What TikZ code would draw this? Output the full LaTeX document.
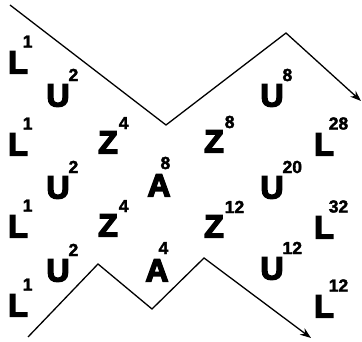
\documentclass[tikz,border=0pt]{standalone}
\usepackage{fontspec}
\setmainfont{Liberation Sans}
\newfontfamily\heavyfont{Liberation Sans Bold}[FakeBold=4.5]
\newfontfamily\supfont{Liberation Sans Bold}[FakeBold=2]
\usetikzlibrary{arrows.meta}
\tikzset{
  let/.style={inner sep=0pt, outer sep=0pt, font=\fontsize{32}{32}\heavyfont, text height=22.9pt, text depth=0pt},
  sup/.style={inner sep=0pt, outer sep=0pt, font=\fontsize{17.5}{17.5}\supfont, text height=12.5pt, text depth=0pt, anchor=south west},
  Lsup/.style={xshift=-5pt, yshift=3pt},
  Usup/.style={xshift=-1pt, yshift=2.5pt},
  Zsup/.style={xshift=1pt, yshift=1.5pt},
  Asup/.style={xshift=-10pt, yshift=4.5pt},
  zig/.style={line width=1.3pt, line join=miter},
  arr/.style={zig, -{Stealth[length=11pt,width=8pt]}}
}
\newcommand{\lt}[5]{\node[let] (#1) at (#2,#3) {#4}; \node[sup, #4sup] (#1s) at (#1.north east) {#5};}
\begin{document}
\begin{tikzpicture}[x=1pt,y=-1pt]
\useasboundingbox (0,0) rectangle (362,342);
\lt{a}{18}{62}{L}{1}
\lt{b}{58}{95}{U}{2}
\lt{c}{18}{144}{L}{1}
\lt{d}{108}{142}{Z}{4}
\lt{e}{159}{185}{A}{8}
\lt{f}{214}{141}{Z}{8}
\lt{g}{272}{95}{U}{8}
\lt{h}{324}{144}{L}{28}
\lt{i}{58}{187}{U}{2}
\lt{j}{272}{187}{U}{20}
\lt{k}{18}{226}{L}{1}
\lt{l}{108}{225}{Z}{4}
\lt{m}{214}{226}{Z}{12}
\lt{n}{324}{227}{L}{32}
\lt{o}{58}{270}{U}{2}
\lt{p}{157}{270}{A}{4}
\lt{q}{272}{268}{U}{12}
\lt{r}{18}{305}{L}{1}
\lt{s}{324}{306}{L}{12}
\coordinate (t0) at (10,5);
\coordinate (t1) at (166,125);
\coordinate (t2) at (286,33);
\coordinate (t3) at (361,101);
\coordinate (b0) at (28,337);
\coordinate (b1) at (98,264);
\coordinate (b2) at (152,309);
\coordinate (b3) at (204,258);
\coordinate (b4) at (311,338);
\draw[arr] (t0) -- (t1) -- (t2) -- (t3);
\draw[arr] (b0) -- (b1) -- (b2) -- (b3) -- (b4);
\end{tikzpicture}
\end{document}
